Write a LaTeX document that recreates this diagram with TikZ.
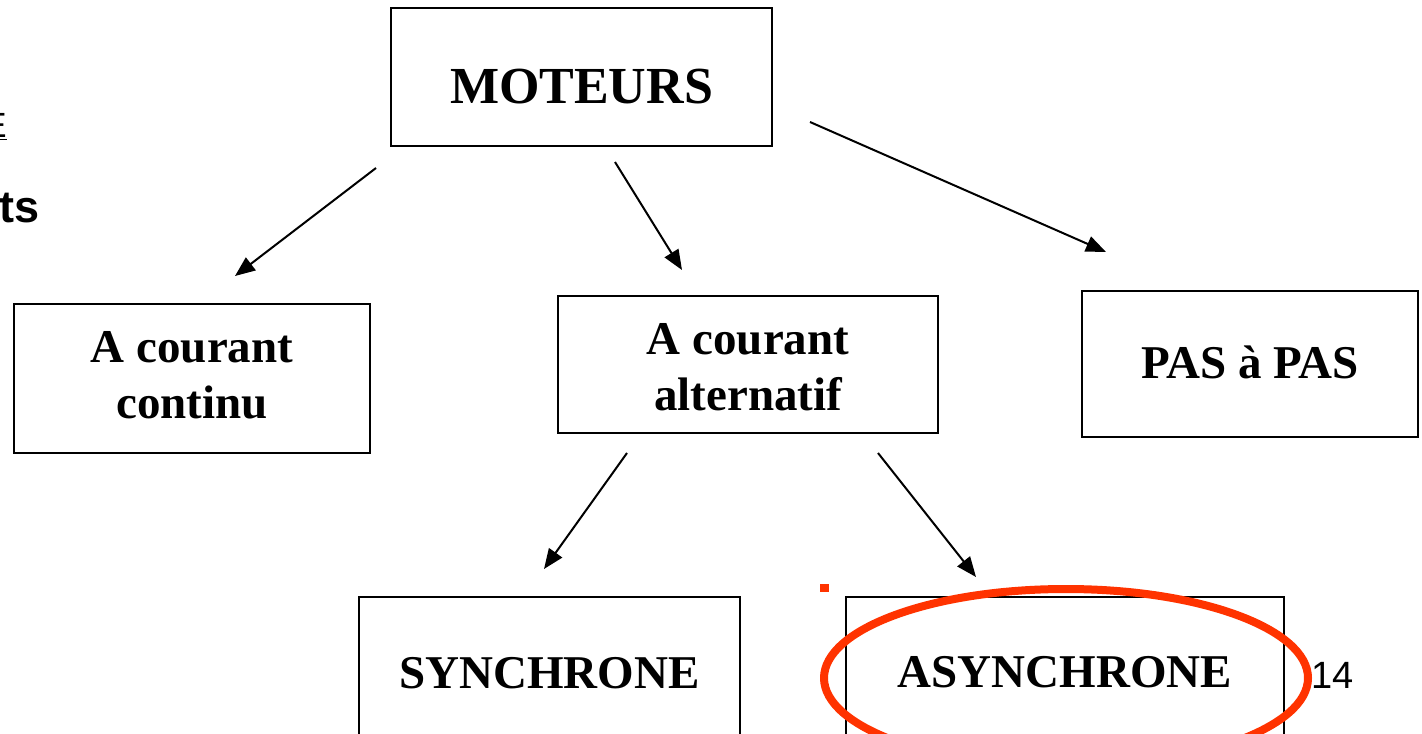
\documentclass[tikz,border=0pt]{standalone}
\usepackage{fontspec}
\setmainfont{Liberation Serif}
\newfontfamily\sansf{Liberation Sans}
\usetikzlibrary{arrows.meta}
\definecolor{markred}{HTML}{FF3300}
\tikzset{
  box/.style={draw, line width=1pt, inner sep=0pt, text depth=0pt,
              font=\bfseries\fontsize{23.5}{28}\selectfont},
  link/.style={line width=1pt, -{Triangle[length=10pt,width=8pt]}},
}
% two centred lines, baseline on the last one
\newcommand\twolines[2]{\begin{tabular}[b]{@{}c@{}}#1\\#2\end{tabular}}
\begin{document}
\begin{tikzpicture}[x=0.5pt,y=-0.5pt]
\useasboundingbox (0,0) rectangle (1422,733);

% cut-off text at the left margin
\node[anchor=base east, inner sep=0pt, font=\sansf\fontsize{17.5}{20}\selectfont] (frag1) at (7,137) {\underline{E}};
\node[anchor=base east, inner sep=0pt, font=\sansf\bfseries\fontsize{22.5}{26}\selectfont] (frag2) at (40,222) {ts};

% boxes
\node[box, minimum width=190.5pt, minimum height=69pt, text height=27pt,
      font=\bfseries\fontsize{26}{30}\selectfont] (mot) at (581.5,77) {MOTEURS};
\node[box, minimum width=178pt, minimum height=74.5pt, text height=39.5pt] (cc) at (192,378.5) {\twolines{A courant~}{continu}};
\node[box, minimum width=190pt, minimum height=68.5pt, text height=45.5pt] (ca) at (748,364.5) {\twolines{A courant~}{alternatif}};
\node[box, minimum width=168pt, minimum height=73pt, text height=14pt] (pas) at (1250,364) {PAS à PAS};
\node[box, minimum width=190.5pt, minimum height=73pt, text height=18pt] (syn) at (549.5,670) {SYNCHRONE};
\node[box, minimum width=219pt, minimum height=73pt, text height=17pt] (asy) at (1065,670) {ASYNCHRONE};

% arrow end points
\coordinate (m1) at (376,168);  \coordinate (t1) at (235,276);
\coordinate (m2) at (615,162);  \coordinate (t2) at (682,270);
\coordinate (m3) at (810,122);  \coordinate (t3) at (1106,252);
\coordinate (c1) at (627,453);  \coordinate (t4) at (544,569);
\coordinate (c2) at (878,453);  \coordinate (t5) at (976,577);

\draw[link] (m1) -- (t1);
\draw[link] (m2) -- (t2);
\draw[link] (m3) -- (t3);
\draw[link] (c1) -- (t4);
\draw[link] (c2) -- (t5);

% highlight
\fill[markred] (820,584) rectangle (829,592);
\draw[markred, line width=4pt] (1066,678) ellipse [x radius=242, y radius=89];

% page number
\node[anchor=base west, inner sep=0pt, font=\sansf\fontsize{19}{22}\selectfont] (num) at (1311,688) {14};
\end{tikzpicture}
\end{document}
